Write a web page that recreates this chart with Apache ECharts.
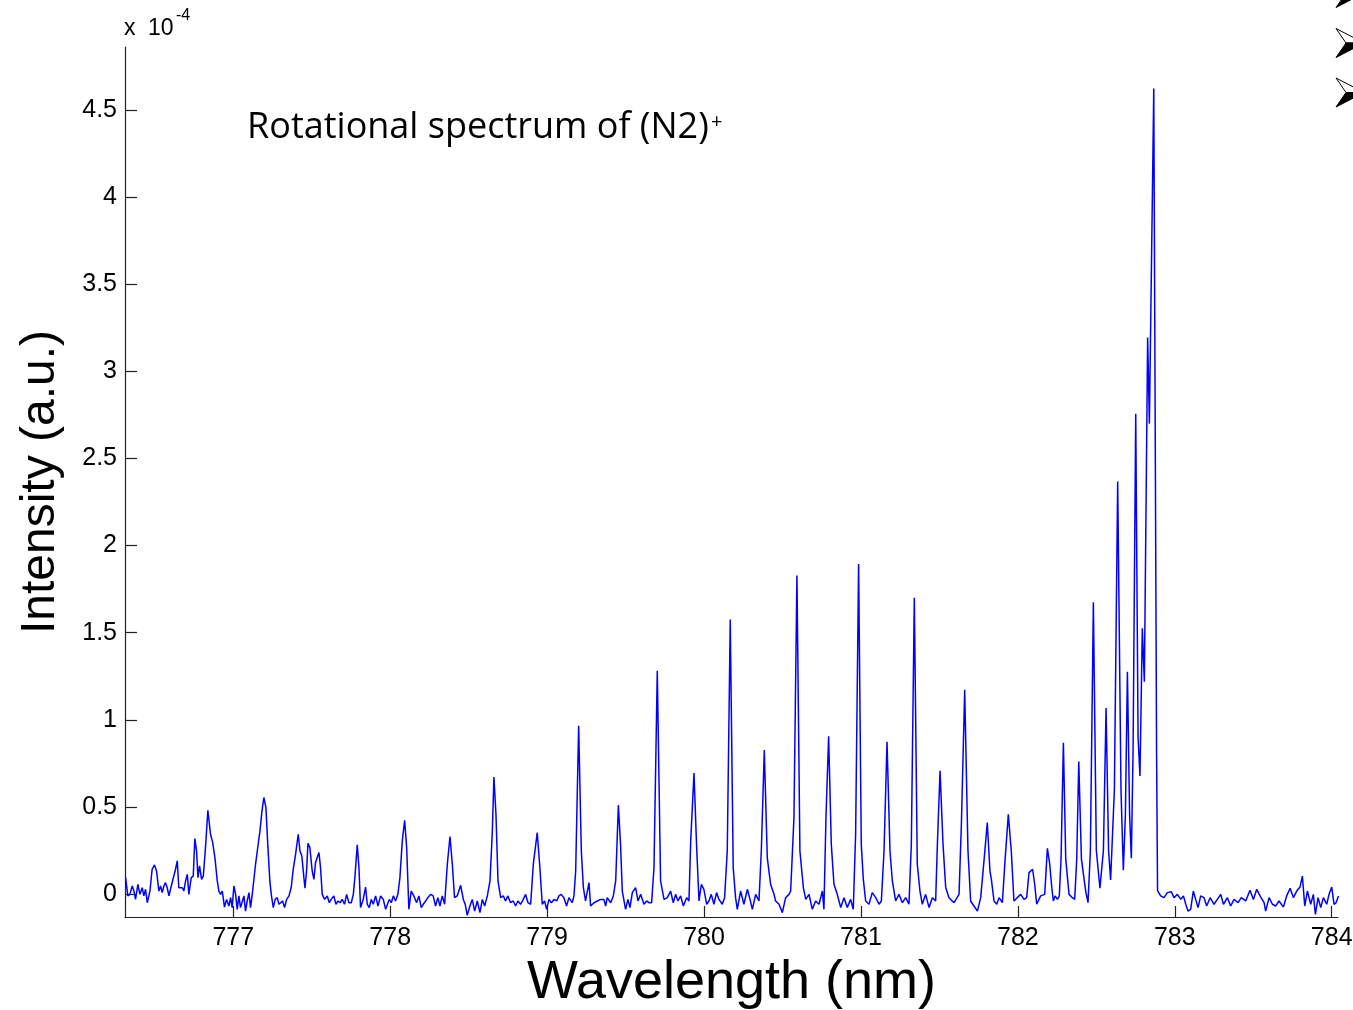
<!DOCTYPE html>
<html>
<head>
<meta charset="utf-8">
<script src="https://cdn.jsdelivr.net/npm/echarts@6/dist/echarts.min.js"></script>
<style>
html,body{margin:0;padding:0;background:#fff;}
#chart{width:1353px;height:1010px;}
</style>
</head>
<body>
<div id="chart"></div>
<script>
// Wavelength (nm)
const wavelength = [
776.314,776.328,776.341,776.356,776.367,776.377,776.392,776.405,776.420,776.430,776.441,776.452,776.469,776.483,776.498,776.511,776.526,776.537,776.547,776.558,
776.568,776.579,776.590,776.605,776.617,776.632,776.643,776.653,776.664,776.675,776.685,776.696,776.707,776.717,776.732,776.745,776.755,776.766,776.775,776.785,
776.798,776.809,776.823,776.838,776.855,776.868,776.883,776.898,776.908,776.919,776.930,776.944,776.957,776.972,776.983,776.993,777.004,777.015,777.025,777.036,
777.046,777.057,777.068,777.078,777.089,777.100,777.110,777.121,777.131,777.142,777.153,777.170,777.183,777.195,777.208,777.221,777.233,777.242,777.255,777.267,
777.280,777.291,777.301,777.314,777.327,777.340,777.355,777.369,777.382,777.397,777.414,777.425,777.437,777.450,777.457,777.467,777.476,777.488,777.503,777.514,
777.524,777.535,777.546,777.556,777.567,777.582,777.599,777.612,777.624,777.641,777.654,777.667,777.680,777.694,777.709,777.722,777.737,777.752,777.765,777.775,
777.790,777.801,777.811,777.828,777.843,777.854,777.867,777.879,777.892,777.907,777.922,777.939,777.956,777.971,777.981,777.994,778.007,778.020,778.034,778.049,
778.062,778.077,778.092,778.105,778.119,778.134,778.151,778.168,778.183,778.198,778.211,778.226,778.240,778.257,778.274,778.289,778.304,778.317,778.332,778.347,
778.364,778.381,778.396,778.410,778.427,778.449,778.466,778.478,778.491,778.508,778.523,778.538,778.555,778.572,778.587,778.602,778.619,778.636,778.651,778.661,
778.674,778.687,778.704,778.721,778.735,778.750,778.767,778.784,778.799,778.814,778.831,778.848,778.863,778.878,778.895,778.912,778.937,778.954,
778.969,778.984,778.997,779.012,779.027,779.044,779.061,779.075,779.090,779.107,779.124,779.139,779.160,779.171,779.182,779.201,779.218,779.231,779.245,779.256,
779.267,779.277,779.299,779.320,779.341,779.362,779.373,779.383,779.405,779.422,779.437,779.454,779.468,779.479,779.500,779.515,779.528,779.543,779.564,779.579,
779.596,779.617,779.634,779.649,779.666,779.681,779.702,779.723,779.745,779.766,779.787,779.804,779.819,779.834,779.851,779.868,779.889,779.904,779.915,779.936,
779.953,779.968,779.983,779.999,780.017,780.031,780.046,780.063,780.080,780.095,780.116,780.131,780.148,780.167,780.186,780.201,780.212,780.233,780.254,780.276,
780.293,780.308,780.329,780.350,780.365,780.384,780.403,780.424,780.446,780.456,780.478,780.499,780.520,780.541,780.552,780.573,780.592,780.611,780.633,780.648,
780.669,780.690,780.711,780.733,780.754,780.764,780.777,780.794,780.811,780.828,780.849,780.871,780.892,780.913,780.934,780.951,780.966,780.985,781.002,781.015,
781.030,781.051,781.072,781.094,781.115,781.130,781.147,781.166,781.185,781.200,781.221,781.242,781.264,781.285,781.306,781.321,781.340,781.359,781.376,781.391,
781.412,781.434,781.455,781.476,781.487,781.504,781.523,781.540,781.561,781.593,781.625,781.640,781.661,781.682,781.699,781.720,781.742,781.763,781.784,781.805,
781.822,781.831,781.848,781.865,781.880,781.901,781.918,781.939,781.958,781.975,781.996,782.018,782.039,782.056,782.071,782.082,782.094,782.107,782.120,782.145,
782.156,782.171,782.188,782.203,782.215,782.226,782.237,782.252,782.264,782.275,782.290,782.305,782.326,782.347,782.362,782.375,782.388,782.405,782.432,782.447,
782.462,782.481,782.500,782.523,782.545,782.562,782.578,782.591,782.615,782.636,782.657,782.672,782.685,782.698,782.712,782.723,782.734,782.751,782.766,782.778,
782.793,782.806,782.827,782.838,782.866,782.884,782.890,782.910,782.931,782.953,782.978,782.995,783.016,783.038,783.055,783.070,783.084,783.101,783.118,783.133,
783.148,783.165,783.186,783.203,783.225,783.250,783.271,783.293,783.310,783.335,783.356,783.378,783.403,783.424,783.452,783.479,783.501,783.522,783.543,783.569,
783.579,783.601,783.622,783.643,783.664,783.692,783.713,783.735,783.756,783.777,783.798,783.813,783.828,783.845,783.866,783.883,783.896,783.913,783.930,783.947,
783.968,783.983,784.000,784.015,784.028,784.043
];
// Intensity (x 1e-4, a.u.)
const intensity = [
0.094,-0.011,-0.002,0.046,0.017,-0.031,0.056,-0.002,0.036,-0.011,0.027,-0.050,0.017,0.142,0.167,0.132,0.017,0.046,0.008,0.046,
0.065,0.036,-0.011,0.046,0.036,0.142,0.190,0.036,0.027,0.036,0.017,0.075,0.113,-0.002,0.094,0.103,0.318,0.247,0.094,0.161,
0.084,0.103,0.266,0.481,0.343,0.299,0.209,0.075,0.017,-0.002,0.017,-0.075,-0.031,-0.069,-0.021,-0.078,0.046,-0.002,-0.088,-0.011,
-0.078,-0.088,-0.011,-0.098,-0.040,0.008,-0.078,-0.002,0.008,0.171,0.247,0.362,0.477,0.554,0.496,0.266,0.075,-0.002,-0.078,-0.031,
-0.021,-0.059,-0.069,-0.040,-0.078,-0.031,-0.011,0.036,0.142,0.228,0.343,0.247,0.218,0.094,0.033,0.132,0.291,0.266,0.132,0.084,
0.180,0.209,0.238,0.151,-0.002,-0.031,-0.011,-0.050,-0.031,-0.011,-0.059,-0.040,-0.050,-0.031,-0.059,-0.002,-0.050,-0.050,-0.002,0.094,
0.282,0.151,-0.078,-0.031,0.040,-0.059,-0.078,-0.031,-0.059,-0.011,-0.069,-0.011,-0.031,-0.088,-0.098,-0.031,-0.050,-0.011,-0.040,-0.002,
0.094,0.305,0.423,0.266,-0.088,0.017,-0.011,-0.050,-0.011,-0.078,-0.059,-0.040,-0.021,-0.002,-0.011,-0.069,-0.021,-0.069,-0.011,-0.059,
0.171,0.330,0.171,-0.021,-0.011,0.050,-0.031,-0.059,-0.122,-0.069,-0.031,-0.098,-0.040,-0.107,-0.031,-0.069,-0.011,0.075,0.362,0.672,
0.458,0.075,-0.021,-0.011,-0.040,-0.011,-0.050,-0.040,-0.069,-0.040,-0.059,-0.031,-0.002,-0.050,-0.059,0.171,0.352,0.151,
-0.059,-0.040,-0.088,-0.031,-0.050,-0.031,-0.040,-0.011,-0.002,-0.021,-0.069,-0.021,-0.050,-0.011,0.132,0.966,0.247,0.037,-0.040,-0.050,
0.065,-0.069,-0.050,-0.040,-0.031,-0.031,-0.069,-0.021,-0.050,-0.011,0.075,0.510,0.285,0.017,-0.088,-0.031,-0.078,0.008,0.037,-0.040,
-0.002,-0.059,-0.040,-0.050,-0.050,0.151,1.282,0.075,-0.031,-0.021,0.017,-0.050,-0.002,-0.040,-0.011,-0.069,-0.021,-0.040,0.305,0.694,
0.266,-0.040,0.056,0.027,-0.059,-0.040,-0.002,-0.059,0.008,-0.031,-0.059,-0.021,0.247,1.575,0.151,-0.021,-0.088,0.017,-0.059,0.027,
-0.031,-0.088,-0.002,-0.040,0.247,0.826,0.209,0.056,-0.002,-0.040,-0.059,-0.107,-0.021,-0.002,0.017,0.439,1.828,0.247,0.037,-0.031,
-0.002,-0.088,-0.040,-0.059,0.017,-0.088,0.439,0.906,0.285,0.056,-0.002,-0.078,-0.021,-0.078,-0.031,-0.088,0.343,1.894,0.285,0.084,
-0.040,-0.059,0.008,-0.021,-0.059,-0.040,0.247,0.874,0.247,0.075,-0.040,-0.002,-0.050,-0.021,-0.059,0.285,1.701,0.171,0.017,-0.059,
-0.002,-0.078,-0.021,-0.040,0.285,0.707,0.285,0.037,-0.021,-0.050,-0.002,0.400,1.173,0.247,-0.040,-0.069,-0.098,-0.021,0.190,0.410,
0.132,0.084,-0.040,-0.059,-0.021,-0.050,0.190,0.458,0.247,-0.040,-0.021,-0.002,-0.031,-0.021,0.123,0.132,0.142,0.056,-0.059,-0.011,
-0.021,-0.002,0.262,0.171,0.046,-0.040,-0.011,-0.031,-0.011,0.200,0.868,0.200,-0.002,-0.021,-0.031,0.200,0.760,0.200,0.017,-0.050,
0.250,1.674,0.250,0.033,0.250,1.067,0.250,0.080,0.600,2.368,0.600,0.136,0.450,1.276,0.450,0.205,0.820,2.757,0.900,0.678,
1.525,1.218,3.194,2.700,4.624,0.800,0.020,-0.011,-0.021,0.008,0.013,-0.021,-0.002,-0.031,-0.011,-0.059,-0.098,-0.088,0.017,-0.031,
-0.078,-0.011,-0.021,-0.069,-0.021,-0.059,-0.031,-0.002,-0.059,-0.021,-0.069,-0.031,-0.050,-0.021,-0.040,0.021,-0.031,0.027,-0.011,-0.050,
-0.098,-0.021,-0.059,-0.069,-0.040,-0.075,-0.011,0.033,-0.021,0.017,0.040,0.103,-0.069,0.017,-0.059,-0.002,-0.117,-0.021,-0.078,-0.021,
-0.059,-0.002,0.040,-0.059,-0.050,-0.011
];
const xTicks = [777, 778, 779, 780, 781, 782, 783, 784];
const yTicks = [0, 0.5, 1, 1.5, 2, 2.5, 3, 3.5, 4, 4.5];

const seriesData = wavelength.map((w, i) => [w, intensity[i]]);

function bullet(cy) {
  return {
    type: 'group', children: [
      {type: 'polygon', shape: {points: [[1336, cy - 14.5], [1364, cy], [1346, cy]]},
        style: {fill: '#fff', stroke: '#000', lineWidth: 1}},
      {type: 'polygon', shape: {points: [[1346, cy], [1364, cy], [1336, cy + 14.5]]},
        style: {fill: '#000', stroke: '#000', lineWidth: 1}}
    ]
  };
}

const chart = echarts.init(document.getElementById('chart'), null, {renderer: 'canvas'});
const axisFont = 'Liberation Sans, Arial, sans-serif';
chart.setOption({
  animation: false,
  backgroundColor: '#ffffff',
  grid: {left: 125, right: 15, top: 47, bottom: 93, containLabel: false, outerBoundsMode: 'none'},
  xAxis: {
    type: 'value', min: 776.31, max: 784.04,
    name: 'Wavelength (nm)', nameLocation: 'middle', nameGap: 38,
    nameTextStyle: {fontFamily: axisFont, fontSize: 54, color: '#000'},
    axisLine: {onZero: false, lineStyle: {color: '#222', width: 1.2}},
    axisTick: {show: true, inside: true, length: 11, customValues: xTicks, lineStyle: {color: '#222', width: 1.2}},
    axisLabel: {customValues: xTicks, fontFamily: axisFont, fontSize: 25, color: '#000', margin: 9},
    splitLine: {show: false}
  },
  yAxis: {
    type: 'value', min: -0.132, max: 4.862,
    name: 'Intensity (a.u.)', nameLocation: 'middle', nameGap: 60, nameRotate: 90,
    nameTextStyle: {fontFamily: axisFont, fontSize: 48, color: '#000'},
    axisLine: {show: true, lineStyle: {color: '#222', width: 1.2}},
    axisTick: {show: true, inside: true, length: 12, customValues: yTicks, lineStyle: {color: '#222', width: 1.2}},
    axisLabel: {customValues: yTicks, fontFamily: axisFont, fontSize: 25, color: '#000', margin: 8},
    splitLine: {show: false}
  },
  series: [{
    type: 'line', data: seriesData, showSymbol: false, symbol: 'none',
    lineStyle: {color: '#0000ff', width: 1.5}, smooth: false, clip: true
  }],
  graphic: [
    {type: 'text', left: 124, top: 17, style: {text: 'x', font: '23px Liberation Sans, Arial, sans-serif', fill: '#000'}},
    {type: 'text', left: 148, top: 17, style: {text: '10', font: '23px Liberation Sans, Arial, sans-serif', fill: '#000'}},
    {type: 'text', left: 176, top: 8, style: {text: '-4', font: '16px Liberation Sans, Arial, sans-serif', fill: '#000'}},
    {type: 'text', left: 247, top: 110, style: {text: 'Rotational spectrum of (N2)', font: '36px Open Sans, Noto Sans, sans-serif', fill: '#000'}},
    {type: 'text', left: 711, top: 112, style: {text: '+', font: '20px Open Sans, Noto Sans, sans-serif', fill: '#000'}},
    bullet(-7),
    bullet(43),
    bullet(92.5)
  ]
});
</script>
</body>
</html>
